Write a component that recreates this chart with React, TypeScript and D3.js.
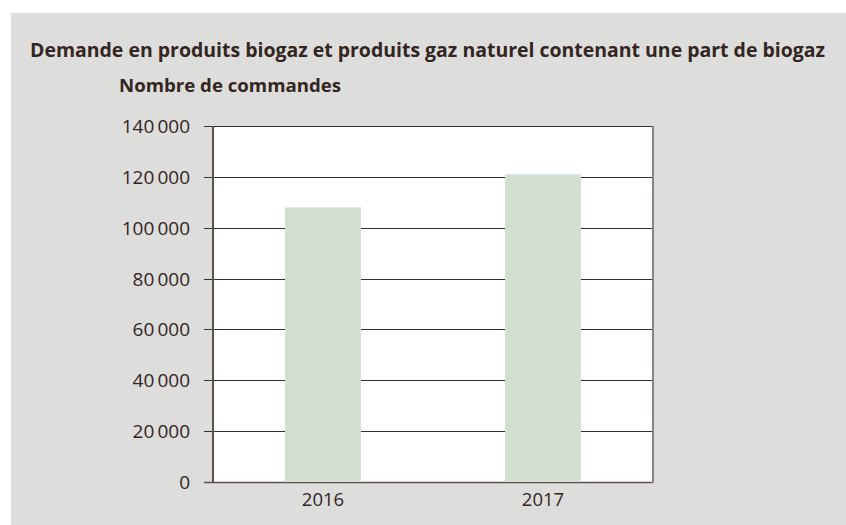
import React from "react";
import * as d3 from "d3";

const categories = ["2016", "2017"];
const values = [108000, 121000];
const tickValues = [0, 20000, 40000, 60000, 80000, 100000, 120000, 140000];
const tickLabels = ["0", "20\u2009000", "40\u2009000", "60\u2009000", "80\u2009000", "100\u2009000", "120\u2009000", "140\u2009000"];
const title = "Demande en produits biogaz et produits gaz naturel contenant une part de biogaz";
const yTitle = "Nombre de commandes";

const W = 846;
const H = 525;
const plot = { left: 213, right: 653, top: 126, bottom: 482 };
const textColor = "#33251f";
const font = "'Open Sans', 'Noto Sans', sans-serif";

export default function App() {
  const x = d3
    .scaleBand<string>()
    .domain(categories)
    .range([plot.left, plot.right])
    .paddingInner(0.655)
    .paddingOuter(0.3275);
  const y = d3.scaleLinear().domain([0, 140000]).range([plot.bottom, plot.top]);

  return (
    <svg
      width={W}
      height={H}
      style={{ position: "absolute", left: 0, top: 0, display: "block" }}
      fontFamily={font}
    >
      <rect x={0} y={0} width={W} height={H} fill="#ffffff" />
      <rect x={11} y={13} width={W - 11} height={H - 13} fill="#dddddb" />
      <text
        x={30}
        y={57}
        fontSize={19.5}
        fontWeight={700}
        fill={textColor}
        textLength={795}
        lengthAdjust="spacingAndGlyphs"
      >
        {title}
      </text>
      <text
        x={119}
        y={92}
        fontSize={18}
        fontWeight={700}
        fill={textColor}
        textLength={222}
        lengthAdjust="spacingAndGlyphs"
      >
        {yTitle}
      </text>
      <rect
        x={plot.left}
        y={plot.top}
        width={plot.right - plot.left}
        height={plot.bottom - plot.top}
        fill="#ffffff"
      />
      {tickValues.map((v, i) => (
        <g key={v}>
          <line
            x1={204}
            x2={plot.right}
            y1={Math.round(y(v)) + 0.5}
            y2={Math.round(y(v)) + 0.5}
            stroke={v === 0 ? "#5c524c" : "#3b2f2a"}
            strokeWidth={v === 0 ? 1.6 : 1.2}
          />
          <text
            x={190}
            y={y(v) + 7}
            textAnchor="end"
            fontSize={19}
            fill={textColor}
          >
            {tickLabels[i]}
          </text>
        </g>
      ))}
      {categories.map((c, i) => (
        <rect
          key={c}
          x={x(c)}
          y={y(values[i])}
          width={x.bandwidth()}
          height={y(0) - y(values[i])}
          fill="#d3dfd3"
        />
      ))}
      <line x1={plot.left} x2={plot.left} y1={plot.top} y2={plot.bottom + 1} stroke="#5c524c" strokeWidth={2} />
      <line x1={plot.right} x2={plot.right} y1={plot.top} y2={plot.bottom + 1} stroke="#8a8280" strokeWidth={2} />
      {categories.map((c) => (
        <text
          key={c}
          x={(x(c) as number) + x.bandwidth() / 2}
          y={506}
          textAnchor="middle"
          fontSize={18.5}
          fill={textColor}
        >
          {c}
        </text>
      ))}
    </svg>
  );
}
